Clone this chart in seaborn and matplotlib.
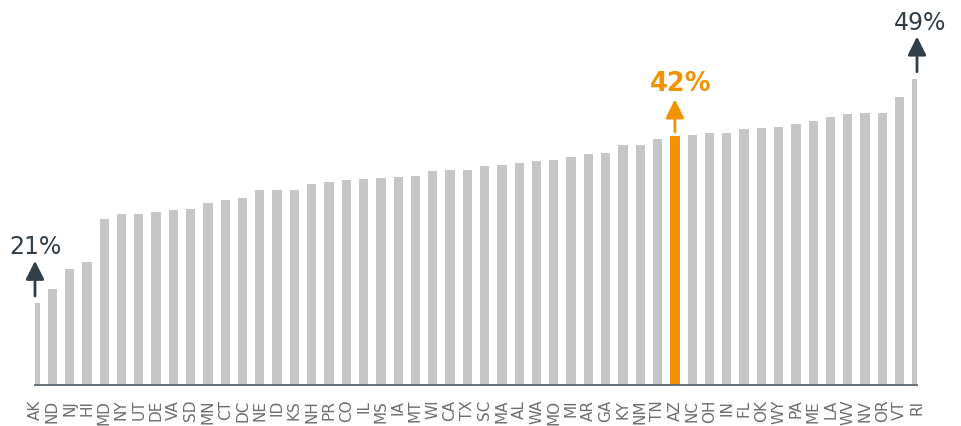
import pandas as pd
import seaborn as sns
import matplotlib.pyplot as plt

states = ["AK", "ND", "NJ", "HI", "MD", "NY", "UT", "DE", "VA", "SD", "MN", "CT", "DC",
          "NE", "ID", "KS", "NH", "PR", "CO", "IL", "MS", "IA", "MT", "WI", "CA", "TX",
          "SC", "MA", "AL", "WA", "MO", "MI", "AR", "GA", "KY", "NM", "TN", "AZ", "NC",
          "OH", "IN", "FL", "OK", "WY", "PA", "ME", "LA", "WV", "NV", "OR", "VT", "RI"]
values = [21.0, 22.8, 25.3, 26.2, 31.5, 32.1, 32.2, 32.4, 32.6, 32.8, 33.5, 33.9, 34.2,
          35.1, 35.2, 35.2, 35.9, 36.1, 36.4, 36.5, 36.6, 36.8, 36.9, 37.5, 37.7, 37.7,
          38.1, 38.3, 38.5, 38.8, 38.9, 39.2, 39.6, 39.7, 40.7, 40.8, 41.5, 41.9, 42.0,
          42.2, 42.3, 42.7, 42.9, 43.0, 43.4, 43.8, 44.2, 44.6, 44.7, 44.8, 46.8, 49.0]
highlight = "AZ"
callouts = {"AK": "21%", "AZ": "42%", "RI": "49%"}

GRAY = "#C4C6C8"
ORANGE = "#F39200"
DARK = "#333F48"

df = pd.DataFrame({"state": states, "value": values})
pal = {s: (ORANGE if s == highlight else GRAY) for s in states}

sns.set_style("white")
fig = plt.figure(figsize=(9.61, 4.26), dpi=100)
ax = fig.add_axes([35 / 961, (426 - 384.5) / 426, 882 / 961, 384.5 / 426])

sns.barplot(data=df, x="state", y="value", hue="state", palette=pal,
            width=0.54, legend=False, ax=ax, saturation=1, linewidth=0)

ax.set_xlim(0, 51)
ax.set_ylim(10.86, 58.86)
ax.set_xlabel("")
ax.set_ylabel("")
ax.set_yticks([])
for side in ["top", "right", "left"]:
    ax.spines[side].set_visible(False)
ax.spines["bottom"].set_color("#5B6670")
ax.spines["bottom"].set_linewidth(1.3)
ax.tick_params(axis="x", length=0, pad=11, labelsize=11, labelcolor="#6D6E71",
               rotation=90)

# arrow + label callouts
for s, label in callouts.items():
    i = states.index(s)
    v = values[i]
    is_hl = s == highlight
    col = ORANGE if is_hl else DARK
    start = v + (0.5 if is_hl else 0.9)
    tip = v + (4.55 if is_hl else 5.3)
    ax.annotate("", xy=(i, tip), xytext=(i, start), annotation_clip=False,
                arrowprops=dict(arrowstyle="-|>,head_length=0.4,head_width=0.2",
                                lw=2, color=col, mutation_scale=28,
                                shrinkA=0, shrinkB=0))
    dx = {"RI": 0.2, "AZ": 0.35}.get(s, 0)
    ax.text(i + dx, tip + (1.0 if is_hl else 0.8), label,
            ha="center", va="baseline", color=col,
            fontsize=18.5 if is_hl else 17,
            fontweight="bold" if is_hl else "normal", clip_on=False)

fig.savefig("out.png", dpi=100)
